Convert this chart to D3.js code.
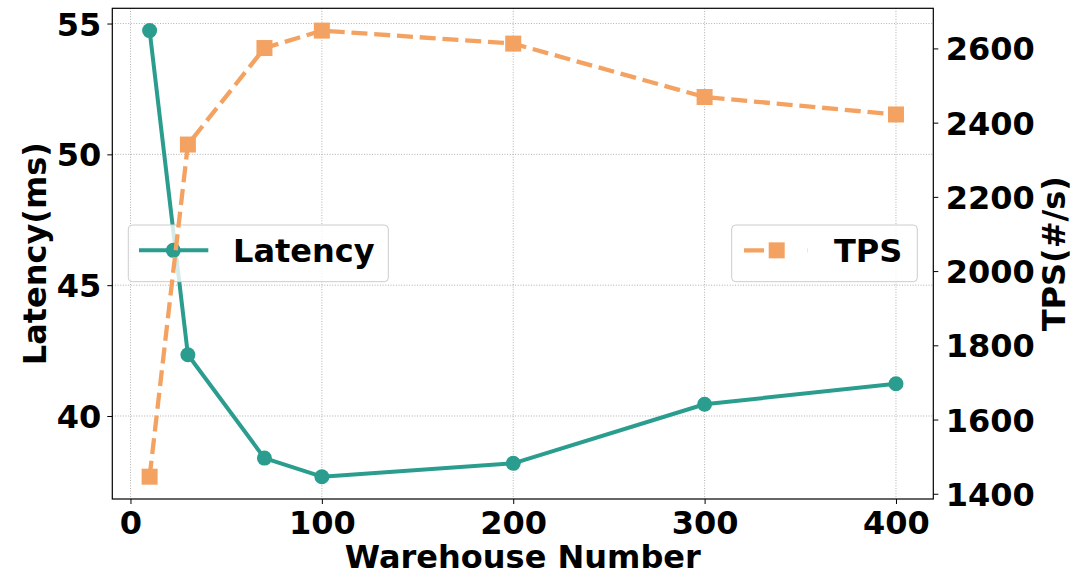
<!DOCTYPE html>
<html>
<head>
<meta charset="utf-8">
<script src="https://cdn.jsdelivr.net/npm/d3@7"></script>
<style>
  html, body { margin: 0; padding: 0; background: #fff; }
  svg { display: block; }
  text { font-family: "DejaVu Sans", sans-serif; font-weight: bold; }
</style>
</head>
<body>
<svg id="chart" width="1087" height="576"></svg>
<script>
// ---- data ----
const warehouses = [10, 30, 70, 100, 200, 300, 400];
const latency = [54.73, 42.34, 38.39, 37.68, 38.19, 40.45, 41.23];
const tps = [1446, 2341, 2601, 2648, 2613, 2469, 2422];
const xTicks = [0, 100, 200, 300, 400];
const latencyTicks = [40, 45, 50, 55];
const tpsTicks = [1400, 1600, 1800, 2000, 2200, 2400, 2600];
const xLabel = "Warehouse Number";
const yLeftLabel = "Latency(ms)";
const yRightLabel = "TPS(#/s)";
const seriesNames = ["Latency", "TPS"];

// ---- layout ----
const W = 1087, H = 576;
const plot = { left: 112.3, right: 933.3, top: 8.3, bottom: 499 };
const teal = "#2a9d8f", orange = "#f4a261";
const fs = 32;

function padded(arr) {
  const [a, b] = d3.extent(arr);
  const m = (b - a) * 0.05;
  return [a - m, b + m];
}

const x = d3.scaleLinear().domain(padded(warehouses)).range([plot.left, plot.right]);
const yL = d3.scaleLinear().domain(padded(latency)).range([plot.bottom, plot.top]);
const yR = d3.scaleLinear().domain(padded(tps)).range([plot.bottom, plot.top]);

const svg = d3.select("#chart");

// ---- grid (left axis + x) ----
const grid = svg.append("g").attr("class", "grid");
grid.selectAll("line.vx").data(xTicks).join("line")
  .attr("x1", d => x(d)).attr("x2", d => x(d))
  .attr("y1", plot.top).attr("y2", plot.bottom)
  .attr("stroke", "#b0b0b0").attr("stroke-width", 1).attr("stroke-dasharray", "1,1.65");
grid.selectAll("line.hy").data(latencyTicks).join("line")
  .attr("x1", plot.left).attr("x2", plot.right)
  .attr("y1", d => yL(d)).attr("y2", d => yL(d))
  .attr("stroke", "#b0b0b0").attr("stroke-width", 1).attr("stroke-dasharray", "1,1.65");

// ---- latency line ----
const latData = warehouses.map((w, i) => [w, latency[i]]);
svg.append("path")
  .datum(latData)
  .attr("fill", "none").attr("stroke", teal).attr("stroke-width", 4)
  .attr("stroke-linejoin", "round")
  .attr("d", d3.line().x(d => x(d[0])).y(d => yL(d[1])));
svg.append("g").selectAll("circle").data(latData).join("circle")
  .attr("cx", d => x(d[0])).attr("cy", d => yL(d[1])).attr("r", 7.5)
  .attr("fill", teal);

// ---- legend helper ----
function legend(x0, x1, y0, y1, name, color, dashed, marker, hx0, hx1, mx, tx) {
  const g = svg.append("g");
  g.append("rect")
    .attr("x", x0).attr("y", y0).attr("width", x1 - x0).attr("height", y1 - y0)
    .attr("rx", 4).attr("ry", 4)
    .attr("fill", "#ffffff").attr("fill-opacity", 0.8)
    .attr("stroke", "#cccccc").attr("stroke-width", 1);
  const cy = (y0 + y1) / 2 - 3;
  g.append("line")
    .attr("x1", hx0).attr("x2", hx1).attr("y1", cy).attr("y2", cy)
    .attr("stroke", color).attr("stroke-width", dashed ? 4.3 : 4)
    .attr("stroke-dasharray", dashed ? "20,43,20" : null);
  if (marker === "circle") {
    g.append("circle").attr("cx", mx).attr("cy", cy).attr("r", 7.5).attr("fill", color);
  } else {
    g.append("rect").attr("x", mx - 8).attr("y", cy - 8).attr("width", 16).attr("height", 16).attr("fill", color);
  }
  g.append("text").attr("x", tx).attr("y", cy + 12)
    .attr("font-size", fs).attr("fill", "#000").text(name);
}

legend(128.3, 388.3, 225, 281.7, seriesNames[0], teal, false, "circle", 139, 208.3, 173.3, 233);

// ---- TPS line ----
const tpsData = warehouses.map((w, i) => [w, tps[i]]);
svg.append("path")
  .datum(tpsData)
  .attr("fill", "none").attr("stroke", orange).attr("stroke-width", 4.3)
  .attr("stroke-dasharray", "16,6.8")
  .attr("d", d3.line().x(d => x(d[0])).y(d => yR(d[1])));
svg.append("g").selectAll("rect").data(tpsData).join("rect")
  .attr("x", d => x(d[0]) - 8).attr("y", d => yR(d[1]) - 8)
  .attr("width", 16).attr("height", 16)
  .attr("fill", orange);

legend(731.7, 917.3, 225, 281.7, seriesNames[1], orange, true, "square", 744, 807.3, 776.7, 834);

// ---- axes ----
function styleAxis(g) {
  g.selectAll("text").attr("font-size", fs).attr("fill", "#000")
    .attr("font-family", "DejaVu Sans").attr("font-weight", "bold");
  g.selectAll(".tick line").attr("stroke", "#000").attr("stroke-width", 1);
  g.select(".domain").remove();
}

svg.append("g").attr("transform", `translate(0,${plot.bottom})`)
  .call(d3.axisBottom(x).tickValues(xTicks).tickFormat(d3.format("d")).tickSize(5).tickPadding(7))
  .call(styleAxis);

svg.append("g").attr("transform", `translate(${plot.left},0)`)
  .call(d3.axisLeft(yL).tickValues(latencyTicks).tickFormat(d3.format("d")).tickSize(5).tickPadding(6))
  .call(styleAxis)
  .selectAll("text").attr("dy", "0.36em");

svg.append("g").attr("transform", `translate(${plot.right},0)`)
  .call(d3.axisRight(yR).tickValues(tpsTicks).tickFormat(d3.format("d")).tickSize(5).tickPadding(7.5))
  .call(styleAxis)
  .selectAll("text").attr("dy", "0.36em");

// ---- frame ----
svg.append("rect")
  .attr("x", plot.left).attr("y", plot.top)
  .attr("width", plot.right - plot.left).attr("height", plot.bottom - plot.top)
  .attr("fill", "none").attr("stroke", "#000").attr("stroke-width", 1.2);

// ---- axis labels ----
svg.append("text")
  .attr("x", (plot.left + plot.right) / 2).attr("y", 568)
  .attr("text-anchor", "middle").attr("font-size", fs).attr("fill", "#000")
  .text(xLabel);

svg.append("text")
  .attr("transform", `translate(45.5,${(plot.top + plot.bottom) / 2}) rotate(-90)`)
  .attr("text-anchor", "middle").attr("font-size", fs).attr("fill", "#000")
  .text(yLeftLabel);

svg.append("text")
  .attr("transform", `translate(1065,${(plot.top + plot.bottom) / 2}) rotate(-90)`)
  .attr("text-anchor", "middle").attr("font-size", fs).attr("fill", "#000")
  .text(yRightLabel);
</script>
</body>
</html>
